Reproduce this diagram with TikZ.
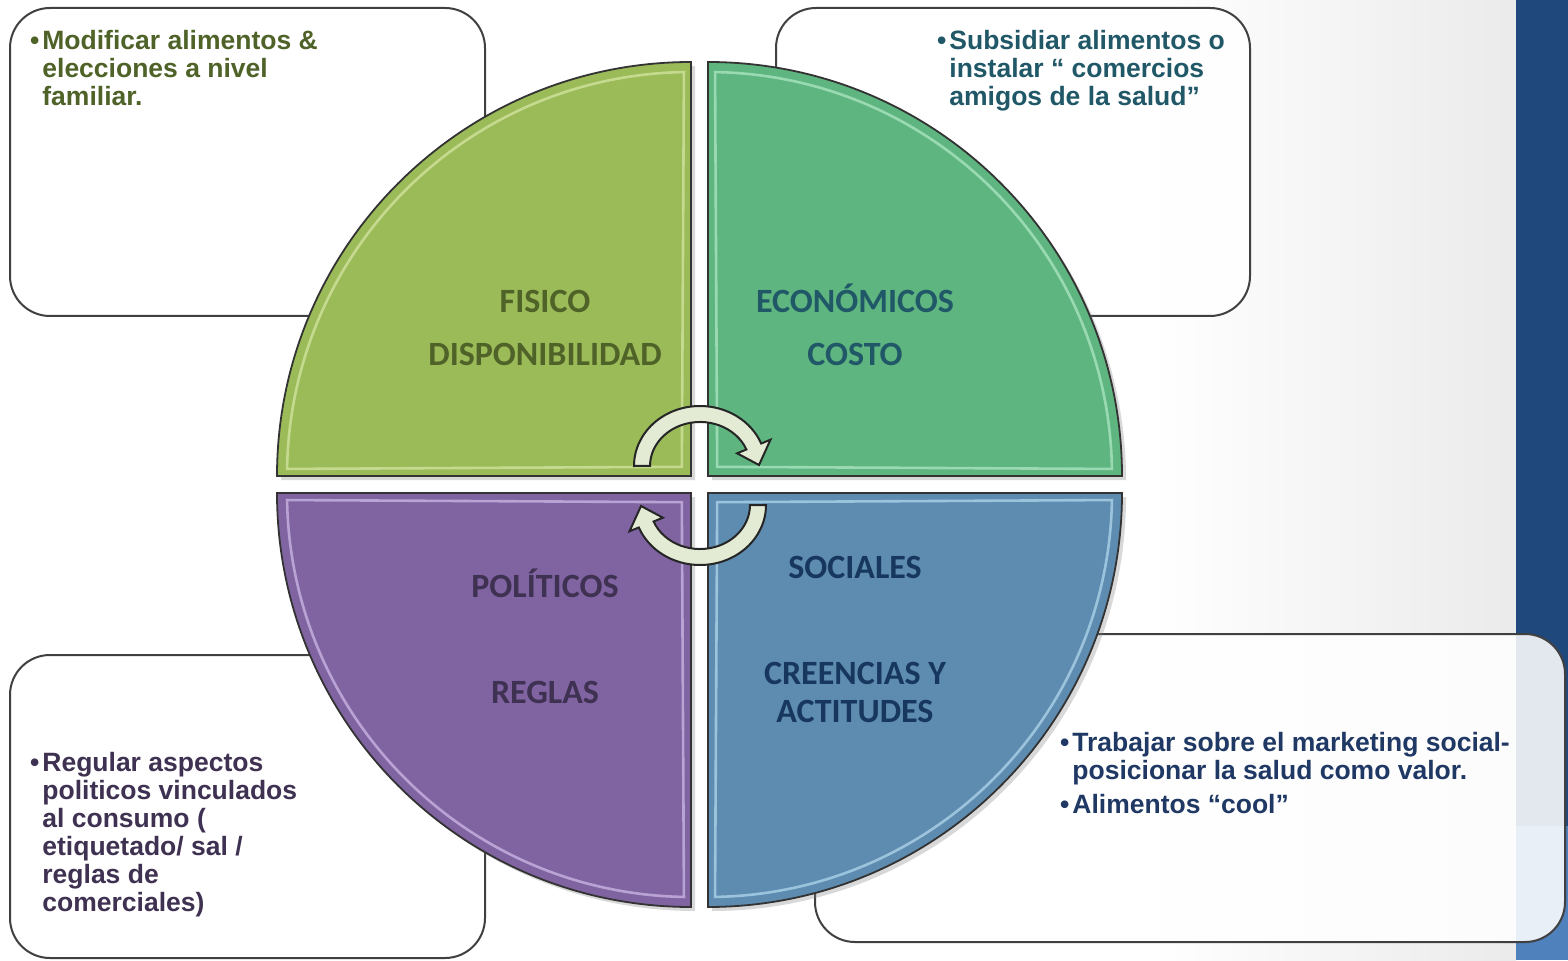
\documentclass[tikz,border=0pt]{standalone}
\usepackage{fontspec}
\setmainfont{Liberation Sans}
\newfontfamily\calfont{Carlito}
\usepackage{tikz}
\usetikzlibrary{shadows}

\definecolor{fisgreen}{HTML}{9BBB59}
\definecolor{ecogreen}{HTML}{5EB580}
\definecolor{polpurple}{HTML}{8064A2}
\definecolor{socblue}{HTML}{5E8CB0}
\definecolor{fishl}{HTML}{E2F0B4}
\definecolor{ecohl}{HTML}{C2F4D6}
\definecolor{polhl}{HTML}{E0CCF6}
\definecolor{sochl}{HTML}{C6E8FA}
\definecolor{fistext}{HTML}{4F6228}
\definecolor{ecotext}{HTML}{215868}
\definecolor{poltext}{HTML}{3F3151}
\definecolor{soctext}{HTML}{17375E}
\definecolor{brtext}{HTML}{1F3864}
\definecolor{barblue}{HTML}{1F497D}
\definecolor{barlight}{HTML}{4F81BD}
\definecolor{cycfill}{HTML}{E3EBD5}

\tikzstyle{box} = [draw=black!75, line width=1pt, fill=white, fill opacity=.88, rounded corners=20pt]
\tikzstyle{quad} = [draw=black!80, line width=0.9pt]
\tikzstyle{cyc} = [draw=black!85, line width=1pt, fill=cycfill]
\tikzstyle{bul} = [inner sep=0pt, anchor=north west, align=left, font=\fontsize{13.25}{14}\selectfont\bfseries]
\tikzstyle{lab} = [inner sep=0pt, text height=11pt, text depth=0pt, font=\calfont\fontsize{17}{20}\selectfont\bfseries]

\begin{document}
\begin{tikzpicture}[x=0.5pt, y=0.5pt]
% page and side bar
\useasboundingbox (0,0) rectangle (1568,960);
\fill[white] (0,0) rectangle (1516,960);
\shade[left color=white, right color=black!8] (1150,0) rectangle (1516,960);
\fill[barblue] (1516,134) rectangle (1568,960);
\fill[barlight] (1516,0) rectangle (1568,134);

% text boxes
\draw[box] (10,644) rectangle (485,952);
\draw[box] (776,644) rectangle (1250,952);
\draw[box] (10,2) rectangle (485,305);
\draw[box] (815,18) rectangle (1565,326);

% the four quarters
\foreach \cx/\cy/\a/\fc/\hc in {691/484/90/fisgreen/fishl, 708/484/0/ecogreen/ecohl,
    691/467/180/polpurple/polhl, 708/467/270/socblue/sochl}{
  \filldraw[quad, fill=\fc, drop shadow={opacity=.3, shadow xshift=2pt, shadow yshift=-2pt}]
    (\cx,\cy) -- ++(\a:414) arc[start angle=\a, end angle=\a+90, radius=414] -- cycle;
  \draw[\hc, line width=1.3pt, opacity=.6]
    ([shift={(\a+1:404)}]\cx,\cy) arc[start angle=\a+1, end angle=\a+89, radius=404]
    -- ([shift={(\a+45:13)}]\cx,\cy) -- cycle;
}

% circular arrows
\foreach \cy/\rot in {494/0, 455/180}{
  \begin{scope}[shift={(700,\cy)}, rotate=\rot]
    \filldraw[cyc] (-66,0) arc[start angle=180, end angle=22, x radius=66, y radius=60]
      -- (70.5,26.3) -- (59,1) -- (37.1,12.7) -- (46.4,16.5)
      arc[start angle=22, end angle=180, x radius=50, y radius=44] -- cycle;
  \end{scope}
}

% quarter labels
\node[lab, text=fistext] (fisico) at (545,658) {FISICO};
\node[lab, text=fistext] (dispo) at (545,605) {DISPONIBILIDAD};
\node[lab, text=ecotext] (econ) at (855,658) {ECONÓMICOS};
\node[lab, text=ecotext] (costo) at (855,605) {COSTO};
\node[lab, text=poltext] (polit) at (545,374) {POLÍTICOS};
\node[lab, text=poltext] (reglas) at (545,268) {REGLAS};
\node[lab, text=soctext] (social) at (855,393) {SOCIALES};
\node[lab, text=soctext] (creen) at (855,287) {CREENCIAS Y};
\node[lab, text=soctext] (actit) at (855,249) {ACTITUDES};

% box texts
\node[bul, text=fistext] (famtxt) at (42,930)
  {\llap{•\hspace{1.5pt}}Modificar alimentos \&\\elecciones a nivel\\familiar.};
\node[bul, text=ecotext] (subtxt) at (949,930)
  {\llap{•\hspace{1.5pt}}Subsidiar alimentos o\\instalar “ comercios\\amigos de la salud”};
\node[bul, text=poltext] (regtxt) at (42,208)
  {\llap{•\hspace{1.5pt}}Regular aspectos\\politicos vinculados\\al consumo (\\etiquetado/ sal /\\reglas de\\comerciales)};
\node[bul, text=brtext] (mkttxt) at (1072,228)
  {\llap{•\hspace{1.5pt}}Trabajar sobre el marketing social-\\posicionar la salud como valor.\\[3pt]\llap{•\hspace{1.5pt}}Alimentos “cool”};
\end{tikzpicture}
\end{document}
